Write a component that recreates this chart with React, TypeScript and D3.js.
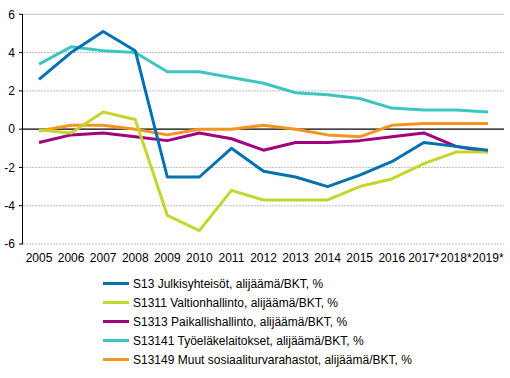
import React from "react";
import * as d3 from "d3";

const years = ["2005","2006","2007","2008","2009","2010","2011","2012","2013","2014","2015","2016","2017*","2018*","2019*"];
const yTicks = [-6, -4, -2, 0, 2, 4, 6];

const s13 = [2.6, 4.0, 5.1, 4.1, -2.5, -2.5, -1.0, -2.2, -2.5, -3.0, -2.4, -1.7, -0.7, -0.9, -1.1];
const s1311 = [-0.05, -0.2, 0.9, 0.5, -4.5, -5.3, -3.2, -3.7, -3.7, -3.7, -3.0, -2.6, -1.8, -1.2, -1.2];
const s1313 = [-0.7, -0.3, -0.2, -0.4, -0.6, -0.2, -0.5, -1.1, -0.7, -0.7, -0.6, -0.4, -0.2, -0.9, -1.2];
const s13141 = [3.4, 4.3, 4.1, 4.0, 3.0, 3.0, 2.7, 2.4, 1.9, 1.8, 1.6, 1.1, 1.0, 1.0, 0.9];
const s13149 = [-0.1, 0.2, 0.2, 0.0, -0.3, 0.0, 0.0, 0.2, 0.0, -0.3, -0.4, 0.2, 0.3, 0.3, 0.3];

const seriesNames = [
  "S13 Julkisyhteisöt, alijäämä/BKT, %",
  "S1311 Valtionhallinto, alijäämä/BKT, %",
  "S1313 Paikallishallinto, alijäämä/BKT, %",
  "S13141 Työeläkelaitokset, alijäämä/BKT, %",
  "S13149 Muut sosiaaliturvarahastot, alijäämä/BKT, %",
];
const seriesValues = [s13, s1311, s1313, s13141, s13149];
const colors = ["#0072b1", "#c4d62d", "#a1007f", "#3cc6bf", "#f7941d"];
// draw order: teal, orange, purple, lime, blue? keep reference-like layering
const drawOrder = [3, 4, 2, 1, 0];

export default function App() {
  const W = 510, H = 378;
  const left = 23, right = 504, top = 14.3, bottom = 244;
  const x = d3.scaleBand<string>().domain(years).range([left, right]);
  const y = d3.scaleLinear().domain([-6, 6]).range([bottom, top]);
  const cx = (i: number) => (x(years[i]) as number) + x.bandwidth() / 2;
  const line = d3.line<number>().x((_, i) => cx(i)).y((d) => y(d));
  const font = "'Liberation Sans', Arial, sans-serif";

  return (
    <svg width={W} height={H} style={{ position: "absolute", left: 0, top: 0 }}>
      <rect width={W} height={H} fill="#fff" />
      {yTicks.map((t) => (
        <g key={t}>
          {t !== 0 && (
            <line x1={left} x2={right} y1={y(t)} y2={y(t)} stroke="#bdbdbd" strokeWidth={1} strokeDasharray={t === 6 ? undefined : "2,1"} />
          )}
          <line x1={left - 4} x2={left} y1={y(t)} y2={y(t)} stroke="#000" />
          <text x={15} y={y(t)} dy="0.35em" textAnchor="end" fontFamily={font} fontSize={12} fill="#000">
            {t}
          </text>
        </g>
      ))}
      <line x1={left - 0.5} x2={left - 0.5} y1={top} y2={bottom} stroke="#000" />
      <line x1={left} x2={right} y1={y(0)} y2={y(0)} stroke="#000" strokeWidth={1.2} />
      {years.map((yr, i) => (
        <text key={yr} x={cx(i)} y={262} textAnchor="middle" fontFamily={font} fontSize={12} fill="#000">
          {yr}
        </text>
      ))}
      {drawOrder.map((k) => (
        <path key={k} d={line(seriesValues[k]) || ""} fill="none" stroke={colors[k]} strokeWidth={3} strokeLinejoin="round" />
      ))}
      {seriesNames.map((name, k) => {
        const ly = 283.5 + k * 19;
        return (
          <g key={name}>
            <line x1={103} x2={129} y1={ly} y2={ly} stroke={colors[k]} strokeWidth={3} />
            <text x={133} y={ly} dy="0.35em" fontFamily={font} fontSize={12} fill="#000">
              {name}
            </text>
          </g>
        );
      })}
    </svg>
  );
}
